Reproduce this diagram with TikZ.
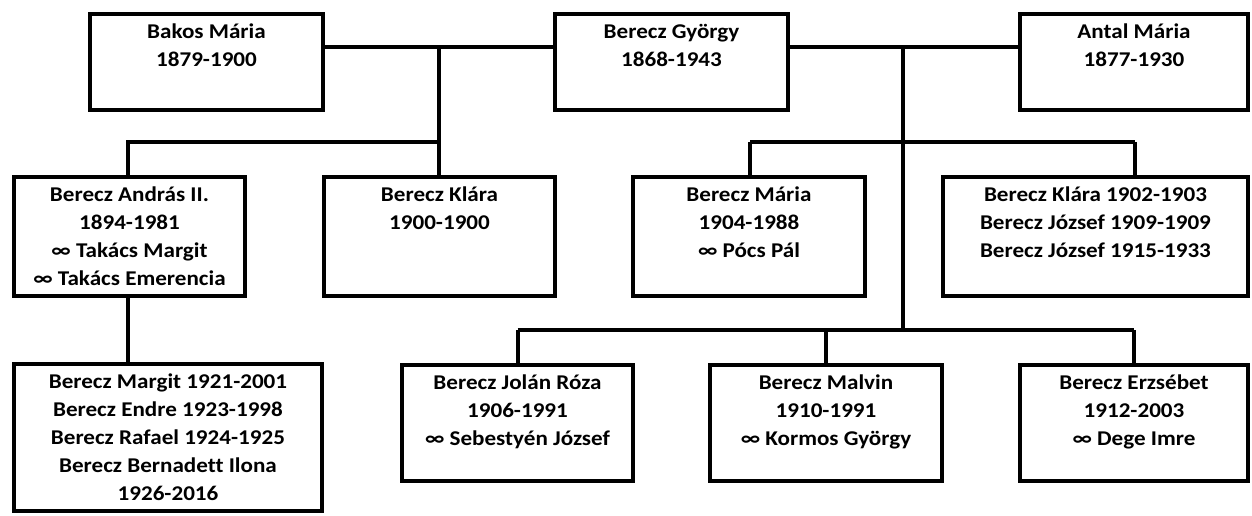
\documentclass[tikz,border=0pt]{standalone}
\usepackage{fontspec}
\setmainfont{Carlito}
\newfontfamily\boxfont{Carlito}[FakeStretch=1.1,Ligatures=NoCommon]
\newcommand\mystrut{\rule{0pt}{18pt}}
\begin{document}
\begin{tikzpicture}[x=1pt,y=-1pt,
  box/.style={draw=black,line width=4pt,rectangle,inner sep=0pt,outer sep=0pt,fill=white},
  txt/.style={anchor=north,inner sep=0pt,align=center,font=\boxfont\fontsize{21}{28}\selectfont\bfseries},
  conn/.style={draw=black,line width=4pt}]
\useasboundingbox (0,0) rectangle (1252,516);
\coordinate (m1) at (439,47);
\coordinate (j1) at (439,142);
\coordinate (m2) at (903,47);
\coordinate (j2) at (903,142);
\coordinate (j3) at (903,330);
\coordinate (kx) at (1135,142);
% boxes
\node[box,minimum width=233pt,minimum height=96pt] (bakos) at (206.5,62) {};
\node[box,minimum width=233pt,minimum height=96pt] (gyorgy) at (671.5,62) {};
\node[box,minimum width=228pt,minimum height=96pt] (antal) at (1134,62) {};
\node[box,minimum width=231pt,minimum height=119pt] (andras) at (129.5,236.5) {};
\node[box,minimum width=231pt,minimum height=119pt] (klara) at (439.5,236.5) {};
\node[box,minimum width=232pt,minimum height=119pt] (maria) at (749,236.5) {};
\node[box,minimum width=305pt,minimum height=119pt] (klaram) at (1095.5,236.5) {};
\node[box,minimum width=308pt,minimum height=147pt] (margit) at (168,437.5) {};
\node[box,minimum width=231pt,minimum height=116pt] (jolan) at (517.5,423) {};
\node[box,minimum width=232pt,minimum height=116pt] (malvin) at (826,423) {};
\node[box,minimum width=228pt,minimum height=116pt] (erzsebet) at (1134,423) {};
% connectors
\draw[conn] (bakos.east |- m1) -- (gyorgy.west |- m1);
\draw[conn] (gyorgy.east |- m2) -- (antal.west |- m2);
\draw[conn] (m1) -- (m1 |- klara.north);
\draw[conn] (j1) -- (128,142) coordinate (a1) -- (a1 |- andras.north);
\draw[conn] (128,296) coordinate (a2) -- (a2 |- margit.north);
\draw[conn] (m2) -- (j3);
\draw[conn] (750,142) coordinate (mx) -- (kx);
\draw[conn] (mx) -- (mx |- maria.north);
\draw[conn] (kx) -- (kx |- klaram.north);
\draw[conn] (jolan.north |- j3) -- (erzsebet.north |- j3);
\draw[conn] (jolan.north |- j3) -- (jolan.north);
\draw[conn] (malvin.north |- j3) -- (malvin.north);
\draw[conn] (erzsebet.north |- j3) -- (erzsebet.north);
% texts
\node[txt] (tbakos) at ([yshift=-6pt]bakos.north) {\mystrut Bakos Mária\\1879-1900};
\node[txt] (tgyorgy) at ([yshift=-6pt]gyorgy.north) {\mystrut Berecz György\\1868-1943};
\node[txt] (tantal) at ([yshift=-6pt]antal.north) {\mystrut Antal Mária\\1877-1930};
\node[txt] (tandras) at ([yshift=-6pt]andras.north) {\mystrut Berecz András II.\\1894-1981\\∞ Takács Margit\\∞ Takács Emerencia};
\node[txt] (tklara) at ([yshift=-6pt]klara.north) {\mystrut Berecz Klára\\1900-1900};
\node[txt] (tmaria) at ([yshift=-6pt]maria.north) {\mystrut Berecz Mária\\1904-1988\\∞ Pócs Pál};
\node[txt] (tklaram) at ([yshift=-6pt]klaram.north) {\mystrut Berecz Klára 1902-1903\\Berecz József 1909-1909\\Berecz József 1915-1933};
\node[txt] (tmargit) at ([yshift=-6pt]margit.north) {\mystrut Berecz Margit 1921-2001\\Berecz Endre 1923-1998\\Berecz Rafael 1924-1925\\Berecz Bernadett Ilona\\1926-2016};
\node[txt] (tjolan) at ([yshift=-6pt]jolan.north) {\mystrut Berecz Jolán Róza\\1906-1991\\∞ Sebestyén József};
\node[txt] (tmalvin) at ([yshift=-6pt]malvin.north) {\mystrut Berecz Malvin\\1910-1991\\∞ Kormos György};
\node[txt] (terzsebet) at ([yshift=-6pt]erzsebet.north) {\mystrut Berecz Erzsébet\\1912-2003\\∞ Dege Imre};
\end{tikzpicture}
\end{document}
